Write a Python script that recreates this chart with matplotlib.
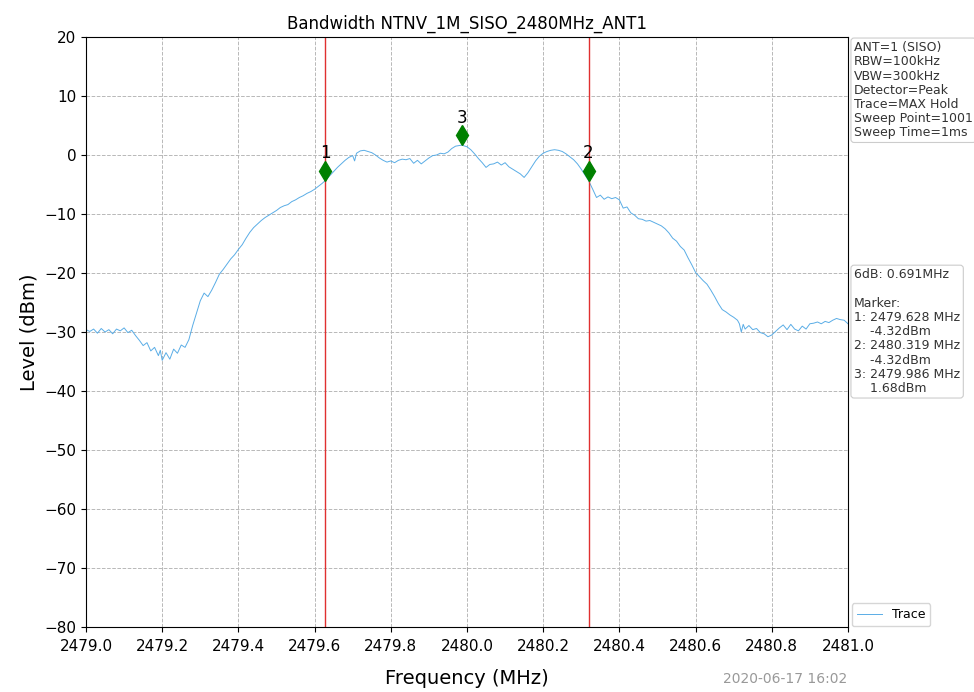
import matplotlib
matplotlib.use("Agg")
import matplotlib.pyplot as plt
import matplotlib.transforms as mtransforms
import numpy as np

# trace (MHz, dBm)
freq = [
    2479.000, 2479.010, 2479.020, 2479.030, 2479.040, 2479.050, 2479.060, 2479.070,
    2479.080, 2479.090, 2479.100, 2479.110, 2479.120, 2479.130, 2479.140, 2479.150,
    2479.160, 2479.170, 2479.180, 2479.190, 2479.195, 2479.200, 2479.210, 2479.220,
    2479.230, 2479.240, 2479.250, 2479.260, 2479.270, 2479.280, 2479.290, 2479.300,
    2479.310, 2479.320, 2479.330, 2479.340, 2479.350, 2479.360, 2479.370, 2479.380,
    2479.390, 2479.400, 2479.410, 2479.420, 2479.430, 2479.440, 2479.450, 2479.460,
    2479.470, 2479.480, 2479.490, 2479.500, 2479.510, 2479.520, 2479.530, 2479.540,
    2479.550, 2479.560, 2479.570, 2479.580, 2479.590, 2479.600, 2479.610, 2479.620,
    2479.628, 2479.640, 2479.650, 2479.660, 2479.670, 2479.680, 2479.690, 2479.700,
    2479.705, 2479.710, 2479.720, 2479.730, 2479.740, 2479.750, 2479.760, 2479.770,
    2479.780, 2479.790, 2479.800, 2479.810, 2479.820, 2479.830, 2479.840, 2479.850,
    2479.860, 2479.870, 2479.880, 2479.890, 2479.900, 2479.910, 2479.920, 2479.930,
    2479.940, 2479.950, 2479.960, 2479.970, 2479.986, 2480.000, 2480.010, 2480.020,
    2480.030, 2480.040, 2480.050, 2480.060, 2480.070, 2480.080, 2480.090, 2480.100,
    2480.110, 2480.120, 2480.130, 2480.140, 2480.150, 2480.160, 2480.170, 2480.180,
    2480.190, 2480.200, 2480.210, 2480.220, 2480.230, 2480.240, 2480.250, 2480.260,
    2480.270, 2480.280, 2480.290, 2480.300, 2480.310, 2480.319, 2480.330, 2480.340,
    2480.350, 2480.360, 2480.370, 2480.380, 2480.390, 2480.400, 2480.410, 2480.420,
    2480.430, 2480.440, 2480.450, 2480.460, 2480.470, 2480.480, 2480.490, 2480.500,
    2480.510, 2480.520, 2480.530, 2480.540, 2480.550, 2480.560, 2480.570, 2480.580,
    2480.590, 2480.600, 2480.610, 2480.620, 2480.630, 2480.640, 2480.650, 2480.660,
    2480.670, 2480.680, 2480.690, 2480.700, 2480.710, 2480.715, 2480.720, 2480.725,
    2480.730, 2480.740, 2480.750, 2480.760, 2480.770, 2480.780, 2480.790, 2480.800,
    2480.810, 2480.820, 2480.830, 2480.840, 2480.850, 2480.860, 2480.870, 2480.880,
    2480.890, 2480.900, 2480.910, 2480.920, 2480.930, 2480.940, 2480.950, 2480.960,
    2480.970, 2480.980, 2480.990, 2481.000,
]
level = [
    -29.6, -29.9, -29.5, -30.2, -29.4, -30.0, -29.6, -30.3,
    -29.5, -29.8, -29.3, -30.1, -29.7, -30.6, -31.4, -32.3,
    -31.8, -33.2, -32.6, -34.0, -33.1, -34.8, -33.5, -34.6,
    -32.9, -33.6, -32.2, -32.6, -31.3, -28.9, -26.8, -24.7,
    -23.4, -24.0, -22.9, -21.6, -20.2, -19.4, -18.5, -17.6,
    -16.9, -16.0, -15.2, -14.1, -13.1, -12.3, -11.7, -11.1,
    -10.6, -10.2, -9.8, -9.4, -8.9, -8.6, -8.4, -7.9,
    -7.6, -7.2, -6.9, -6.5, -6.2, -5.8, -5.3, -4.8,
    -4.32, -3.5, -2.8, -2.1, -1.5, -0.9, -0.4, -0.1,
    -1.0, 0.3, 0.7, 0.8, 0.6, 0.4, 0.0, -0.5,
    -0.9, -1.2, -1.0, -1.3, -0.9, -0.7, -0.8, -0.6,
    -1.4, -0.9, -1.5, -1.0, -0.5, -0.1, 0.0, 0.3,
    0.2, 0.5, 1.1, 1.5, 1.68, 1.4, 0.9, 0.2,
    -0.6, -1.3, -2.1, -1.6, -1.5, -1.2, -1.7, -1.3,
    -2.0, -2.4, -2.8, -3.2, -3.8, -3.0, -2.0, -1.0,
    -0.2, 0.3, 0.6, 0.8, 0.9, 0.8, 0.6, 0.2,
    -0.3, -0.8, -1.5, -2.4, -3.4, -4.32, -5.8, -7.2,
    -6.8, -7.5, -7.1, -7.4, -7.2, -7.6, -9.0, -8.8,
    -9.8, -10.2, -10.8, -10.9, -11.2, -11.1, -11.4, -11.7,
    -12.0, -12.5, -13.2, -14.1, -14.6, -15.5, -16.1, -17.4,
    -18.6, -19.9, -20.6, -21.3, -21.9, -22.9, -24.0, -25.2,
    -26.2, -26.6, -27.1, -27.5, -28.0, -28.6, -30.0, -28.7,
    -29.5, -28.9, -29.6, -29.4, -30.1, -30.3, -30.8, -30.5,
    -29.9, -29.3, -28.8, -29.6, -28.7, -29.5, -29.8, -29.0,
    -29.5, -28.6, -28.5, -28.3, -28.6, -28.2, -28.4, -28.0,
    -27.7, -27.9, -28.0, -28.6,
]

marker_labels = ["1", "2", "3"]
marker_freq = [2479.628, 2480.319, 2479.986]
marker_level = [-4.32, -4.32, 1.68]
edge_freq = [2479.628, 2480.319]

xticks = [2479.0, 2479.2, 2479.4, 2479.6, 2479.8, 2480.0,
          2480.2, 2480.4, 2480.6, 2480.8, 2481.0]
yticks = [20, 10, 0, -10, -20, -30, -40, -50, -60, -70, -80]

setup_text = ("ANT=1 (SISO)\nRBW=100kHz\nVBW=300kHz\nDetector=Peak\n"
              "Trace=MAX Hold\nSweep Point=1001\nSweep Time=1ms")
result_text = ("6dB: 0.691MHz\n\nMarker:\n1: 2479.628 MHz\n    -4.32dBm\n"
               "2: 2480.319 MHz\n    -4.32dBm\n3: 2479.986 MHz\n    1.68dBm")


fig = plt.figure(figsize=(9.74, 6.92), dpi=100)
ax = fig.add_axes([0.0883, 0.0939, 0.7823, 0.8526])

ax.plot(freq, level, color="#5aade6", lw=0.7, label="Trace")

for f in edge_freq:
    ax.axvline(f, color="#e03030", lw=1.0)

# markers sit a little above the trace point
off = mtransforms.offset_copy(ax.transData, fig=fig, x=0, y=7, units="points")
ax.plot(marker_freq, marker_level, "d", color="green", ms=10, transform=off,
        linestyle="none")
for lab, f, v in zip(marker_labels, marker_freq, marker_level):
    ax.annotate(lab, (f, v), xytext=(0, 13), textcoords="offset points",
                ha="center", va="bottom", fontsize=12)

ax.set_xlim(2479.0, 2481.0)
ax.set_ylim(-80, 20)
ax.set_xticks(xticks)
ax.set_xticklabels(["%.1f" % t for t in xticks])
ax.set_yticks(yticks)
ax.tick_params(labelsize=11)
ax.tick_params(axis="x", pad=5)
ax.grid(True, linestyle="--", color="#b8b8b8", lw=0.7)

ax.set_title("Bandwidth NTNV_1M_SISO_2480MHz_ANT1", fontsize=12)
ax.set_xlabel("Frequency (MHz)", fontsize=14, labelpad=11)
ax.set_ylabel("Level (dBm)", fontsize=14)

box = dict(boxstyle="round,pad=0.25", fc="white", ec="#cccccc", lw=0.8)
ax.text(1.008, 0.993, setup_text, transform=ax.transAxes, va="top", ha="left",
        fontsize=9, color="#333333", bbox=box, linespacing=1.12)
ax.text(1.008, 0.608, result_text, transform=ax.transAxes, va="top", ha="left",
        fontsize=9, color="#333333", bbox=box, linespacing=1.12)

ax.legend(loc="lower left", bbox_to_anchor=(1.0, -0.005), fontsize=9,
          frameon=True, borderaxespad=0.3)

fig.text(0.870, 0.008, "2020-06-17 16:02", ha="right", va="bottom",
         fontsize=10, color="#999999")

fig.savefig("out.png", dpi=100)
